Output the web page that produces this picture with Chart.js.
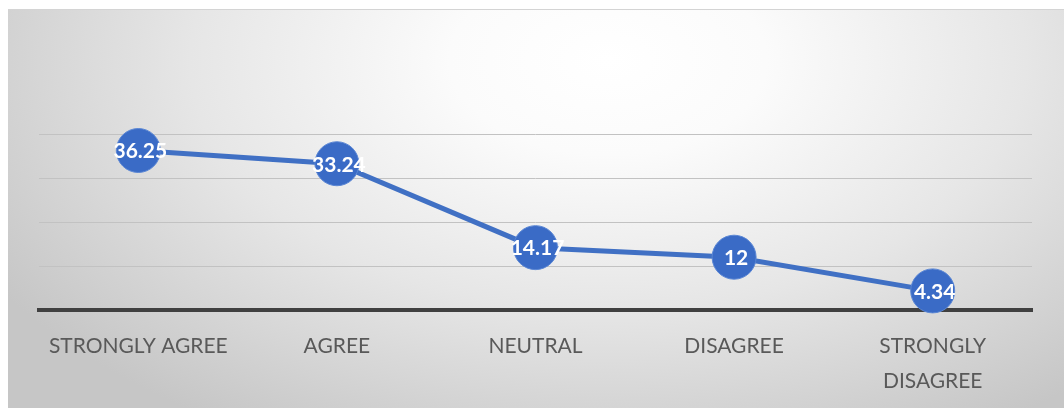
<!DOCTYPE html>
<html>
<head>
<meta charset="utf-8">
<script src="https://cdn.jsdelivr.net/npm/chart.js@4"></script>
<style>
    html, body { margin: 0; padding: 0; background: #ffffff; }
    #panel {
        position: absolute;
        left: 8px;
        top: 9px;
        width: 1056px;
        height: 399px;
        border-top: 1px solid #d4d4d4;
        box-sizing: border-box;
        background: radial-gradient(ellipse 720px 430px at 600px 50px,
            #ffffff 0%, #fbfbfb 22%, #e6e6e6 58%, #c6c6c6 100%);
    }
    #panel canvas { display: block; }
</style>
</head>
<body>
<div id="panel"><canvas id="likertChart"></canvas></div>
<script>
const categories = ["STRONGLY AGREE", "AGREE", "NEUTRAL", "DISAGREE", ["STRONGLY", "DISAGREE"]];
const percentages = [36.25, 33.24, 14.17, 12, 4.34];
const yTicks = [0, 10, 20, 30, 40];

// white value text centred in each marker
const valueLabels = {
    id: "valueLabels",
    afterDatasetsDraw(chart) {
        const { ctx } = chart;
        const meta = chart.getDatasetMeta(0);
        ctx.save();
        ctx.font = "bold 21px Lato, 'Open Sans', sans-serif";
        ctx.fillStyle = "#ffffff";
        ctx.textAlign = "center";
        ctx.textBaseline = "middle";
        meta.data.forEach((pt, i) => {
            ctx.fillText(String(percentages[i]), pt.x + 2, pt.y + 1);
        });
        ctx.restore();
    },
};

const ctx = document.getElementById("likertChart").getContext("2d");
new Chart(ctx, {
    type: "line",
    data: {
        labels: categories,
        datasets: [{
            data: percentages,
            borderColor: "#4070c4",
            borderWidth: 5,
            backgroundColor: "#3a6bc6",
            pointRadius: 22,
            pointHoverRadius: 22,
            pointBorderColor: "#5a86d4",
            pointBorderWidth: 1,
            pointBackgroundColor: "#3a6bc6",
            tension: 0,
            clip: false,
        }],
    },
    options: {
        responsive: true,
        maintainAspectRatio: false,
        animation: false,
        events: [],
        layout: { padding: { top: 124, left: 31, right: 32, bottom: 0 } },
        plugins: {
            legend: { display: false },
            tooltip: { enabled: false },
            title: { display: false },
        },
        scales: {
            x: {
                offset: true,
                grid: { display: false, drawTicks: false },
                border: { display: true, color: "#404040", width: 4 },
                ticks: {
                    color: "#595959",
                    padding: 19,
                    maxRotation: 0,
                    autoSkip: false,
                    font: { family: "Lato, 'Open Sans', sans-serif", size: 21, lineHeight: 1.67 },
                },
                afterFit(scale) { scale.height = 98; },
            },
            y: {
                min: yTicks[0],
                max: yTicks[yTicks.length - 1],
                afterBuildTicks(scale) {
                    scale.ticks = yTicks.map((v) => ({ value: v }));
                },
                grid: { color: "#c2c2c2", lineWidth: 1, drawTicks: false },
                border: { display: false },
                ticks: { display: false },
                afterFit(scale) { scale.width = 0; },
            },
        },
    },
    plugins: [valueLabels],
});
</script>
</body>
</html>
